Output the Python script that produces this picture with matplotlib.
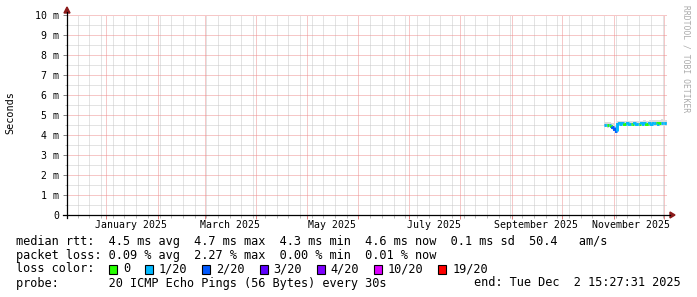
import matplotlib
matplotlib.use("Agg")
import matplotlib.pyplot as plt
import matplotlib.dates as mdates
import matplotlib.transforms as mtransforms
from matplotlib.patches import Rectangle, Polygon
import datetime as dt

W, H = 697, 297

# ---------------- data ----------------
start = dt.datetime(2024, 12, 8, 15, 27, 31)
end = dt.datetime(2025, 12, 2, 15, 27, 31)

days = ["2025-10-26", "2025-10-27", "2025-10-28", "2025-10-29", "2025-10-30",
        "2025-10-31", "2025-11-01", "2025-11-02", "2025-11-03", "2025-11-04",
        "2025-11-05", "2025-11-06", "2025-11-07", "2025-11-08", "2025-11-09",
        "2025-11-10", "2025-11-11", "2025-11-12", "2025-11-13", "2025-11-14",
        "2025-11-15", "2025-11-16", "2025-11-17", "2025-11-18", "2025-11-19",
        "2025-11-20", "2025-11-21", "2025-11-22", "2025-11-23", "2025-11-24",
        "2025-11-25", "2025-11-26", "2025-11-27", "2025-11-28", "2025-11-29",
        "2025-11-30", "2025-12-01", "2025-12-02"]
median_ms = [4.50, 4.50, 4.48, 4.50, 4.46, 4.40, 4.30, 4.20, 4.55, 4.58,
             4.57, 4.58, 4.57, 4.56, 4.58, 4.57, 4.56, 4.57, 4.58, 4.57,
             4.56, 4.57, 4.58, 4.57, 4.58, 4.57, 4.56, 4.58, 4.57, 4.58,
             4.60, 4.58, 4.57, 4.60, 4.62, 4.60, 4.58, 4.60]
loss = [1, 1, 0, 1, 0, 2, 2, 2, 1, 1,
        1, 1, 0, 1, 1, 1, 0, 0, 1, 1,
        1, 0, 1, 1, 1, 0, 0, 1, 1, 1,
        1, 0, 1, 0, 1, 1, 1, 1]
smoke_lo_ms = [4.38, 4.38, 4.37, 4.38, 4.35, 4.25, 4.12, 4.08, 4.42, 4.45,
               4.44, 4.45, 4.44, 4.43, 4.45, 4.44, 4.43, 4.44, 4.45, 4.44,
               4.43, 4.44, 4.45, 4.44, 4.45, 4.44, 4.43, 4.45, 4.44, 4.45,
               4.46, 4.45, 4.44, 4.46, 4.48, 4.46, 4.45, 4.46]
smoke_hi_ms = [4.66, 4.66, 4.64, 4.66, 4.62, 4.58, 4.50, 4.45, 4.70, 4.72,
               4.70, 4.72, 4.70, 4.69, 4.72, 4.70, 4.69, 4.70, 4.72, 4.70,
               4.69, 4.70, 4.72, 4.73, 4.74, 4.72, 4.70, 4.74, 4.75, 4.74,
               4.76, 4.74, 4.73, 4.76, 4.78, 4.76, 4.74, 4.75]

loss_labels = ["0", "1/20", "2/20", "3/20", "4/20", "10/20", "19/20"]
loss_thresholds = [0, 1, 2, 3, 4, 10, 19]
loss_colors = ["#26ff00", "#00b8ff", "#0059ff", "#5e00ff", "#7e00ff", "#dd00ff", "#ff0000"]

month_label_dates = ["2025-01-16", "2025-03-16", "2025-05-16", "2025-07-16",
                     "2025-09-15", "2025-11-11"]
month_labels = ["January 2025", "March 2025", "May 2025", "July 2025",
                "September 2025", "November 2025"]
y_ticks_ms = [0, 1, 2, 3, 4, 5, 6, 7, 8, 9, 10]
y_tick_labels = ["0", "1 m", "2 m", "3 m", "4 m", "5 m", "6 m", "7 m", "8 m", "9 m", "10 m"]

legend_rows = [
    "median rtt:  4.5 ms avg  4.7 ms max  4.3 ms min  4.6 ms now  0.1 ms sd  50.4   am/s",
    "packet loss: 0.09 % avg  2.27 % max  0.00 % min  0.01 % now",
    "loss color:",
    "probe:       20 ICMP Echo Pings (56 Bytes) every 30s",
]
end_text = "end: Tue Dec  2 15:27:31 2025"

# ---------------- figure ----------------
MONO = "DejaVu Sans Mono"
fig = plt.figure(figsize=(W / 100, H / 100), dpi=100)
fig.patch.set_facecolor("white")

L, R, T, B = 67, 667, 15, 215
ax = fig.add_axes([L / W, 1 - B / H, (R - L) / W, (B - T) / H])
ax.set_facecolor("white")

t = [mdates.date2num(dt.datetime.strptime(d, "%Y-%m-%d")) for d in days]
t_edges = t + [mdates.date2num(end)]
sec = lambda v: v / 1000.0

# smoke
xs, lo, hi, md = [], [], [], []
for i in range(len(t)):
    xs += [t_edges[i], t_edges[i + 1]]
    lo += [sec(smoke_lo_ms[i])] * 2
    hi += [sec(smoke_hi_ms[i])] * 2
    md += [sec(median_ms[i])] * 2
mid_lo = [(a + 2 * b) / 3 for a, b in zip(lo, md)]
mid_hi = [(a + 2 * b) / 3 for a, b in zip(hi, md)]
ax.fill_between(xs, lo, hi, color="#dcdcdc", lw=0, zorder=2)
ax.fill_between(xs, mid_lo, mid_hi, color="#bdbdbd", lw=0, zorder=2)


def loss_color(n):
    c = loss_colors[0]
    for th, col in zip(loss_thresholds, loss_colors):
        if n >= th:
            c = col
    return c


for i in range(len(t)):
    y = sec(median_ms[i])
    yprev = sec(median_ms[i - 1]) if i > 0 else y
    ax.plot([t_edges[i], t_edges[i], t_edges[i + 1]], [yprev, y, y],
            color=loss_color(loss[i]), lw=2.1, solid_capstyle="butt",
            solid_joinstyle="miter", zorder=3)

ax.set_xlim(mdates.date2num(start), mdates.date2num(end))
ax.set_ylim(0, 0.010)

# grid
ax.xaxis.set_major_locator(mdates.MonthLocator())
ax.xaxis.set_minor_locator(mdates.WeekdayLocator(byweekday=mdates.SU))
ax.set_yticks([sec(v) for v in y_ticks_ms])
ax.set_yticks([sec(v + 0.5) for v in y_ticks_ms[:-1]], minor=True)
ax.set_yticklabels(y_tick_labels, fontfamily=MONO, fontsize=7.1)
ax.set_xticklabels([])
ax.grid(which="minor", color="#c8c8c8", lw=0.72, ls=(0, (1, 1)), zorder=1)
ax.grid(which="major", color="#ee9090", lw=0.72, ls=(0, (1, 1)), zorder=1)
ax.set_axisbelow(True)
ax.tick_params(axis="y", which="major", length=3, width=0.72, color="#888888", pad=2.5)
ax.tick_params(axis="y", which="minor", length=1.5, width=0.72, color="#bbbbbb")
ax.tick_params(axis="x", which="major", length=3, width=0.72, color="#e08080", pad=1)
ax.tick_params(axis="x", which="minor", length=2, width=0.72, color="#bbbbbb")
for s in ax.spines.values():
    s.set_visible(False)

# month labels
trans = mtransforms.blended_transform_factory(ax.transData, fig.transFigure)
for d, lab in zip(month_label_dates, month_labels):
    x = mdates.date2num(dt.datetime.strptime(d, "%Y-%m-%d"))
    ax.text(x, 1 - 225 / H, lab, transform=trans, ha="center", va="center",
            fontfamily=MONO, fontsize=7.1, color="black")

# axes lines and arrows
px = lambda x, y: (x / W, 1 - y / H)
fig.add_artist(plt.Line2D([px(63, 215)[0], px(670, 215)[0]], [px(63, 215)[1]] * 2,
                          color="black", lw=0.9, transform=fig.transFigure))
fig.add_artist(plt.Line2D([px(67, 218)[0]] * 2, [px(67, 218)[1], px(67, 12)[1]],
                          color="black", lw=0.9, transform=fig.transFigure))
fig.add_artist(Polygon([px(670, 212), px(675, 215), px(670, 218)], closed=True,
                       color="#8b1a1a", transform=fig.transFigure))
fig.add_artist(Polygon([px(64, 13), px(67, 7), px(70, 13)], closed=True,
                       color="#8b1a1a", transform=fig.transFigure))

# y axis label and watermark
fig.text(10 / W, 1 - 113 / H, "Seconds", rotation=90, ha="center", va="center",
         fontfamily=MONO, fontsize=7.3)
fig.text(686 / W, 1 - 5 / H, "RRDTOOL / TOBI OETIKER", rotation=270, ha="center",
         va="top", fontfamily=MONO, fontsize=5.8, color="#aaaaaa")

# legend rows
FS = 8.55
cw = FS * 100 / 72 * 0.602
row_y = [241, 255, 269, 283]
for txt, y in zip(legend_rows, row_y):
    fig.text(16 / W, 1 - y / H, txt, ha="left", va="center", fontfamily=MONO,
             fontsize=FS)
fig.text(681 / W, 1 - 283 / H, end_text, ha="right", va="center",
         fontfamily=MONO, fontsize=FS)

col = 13
for lab, c in zip(loss_labels, loss_colors):
    bx = 16 + col * cw
    fig.add_artist(Rectangle(((bx + 0.5) / W, 1 - 273.5 / H), 8 / W, 9 / H,
                             facecolor=c, edgecolor="black", lw=0.8,
                             transform=fig.transFigure))
    fig.text((16 + (col + 2) * cw) / W, 1 - 269 / H, lab, ha="left", va="center",
             fontfamily=MONO, fontsize=FS)
    col += 2 + len(lab) + 2

fig.savefig("out.png", dpi=100, facecolor="white")
